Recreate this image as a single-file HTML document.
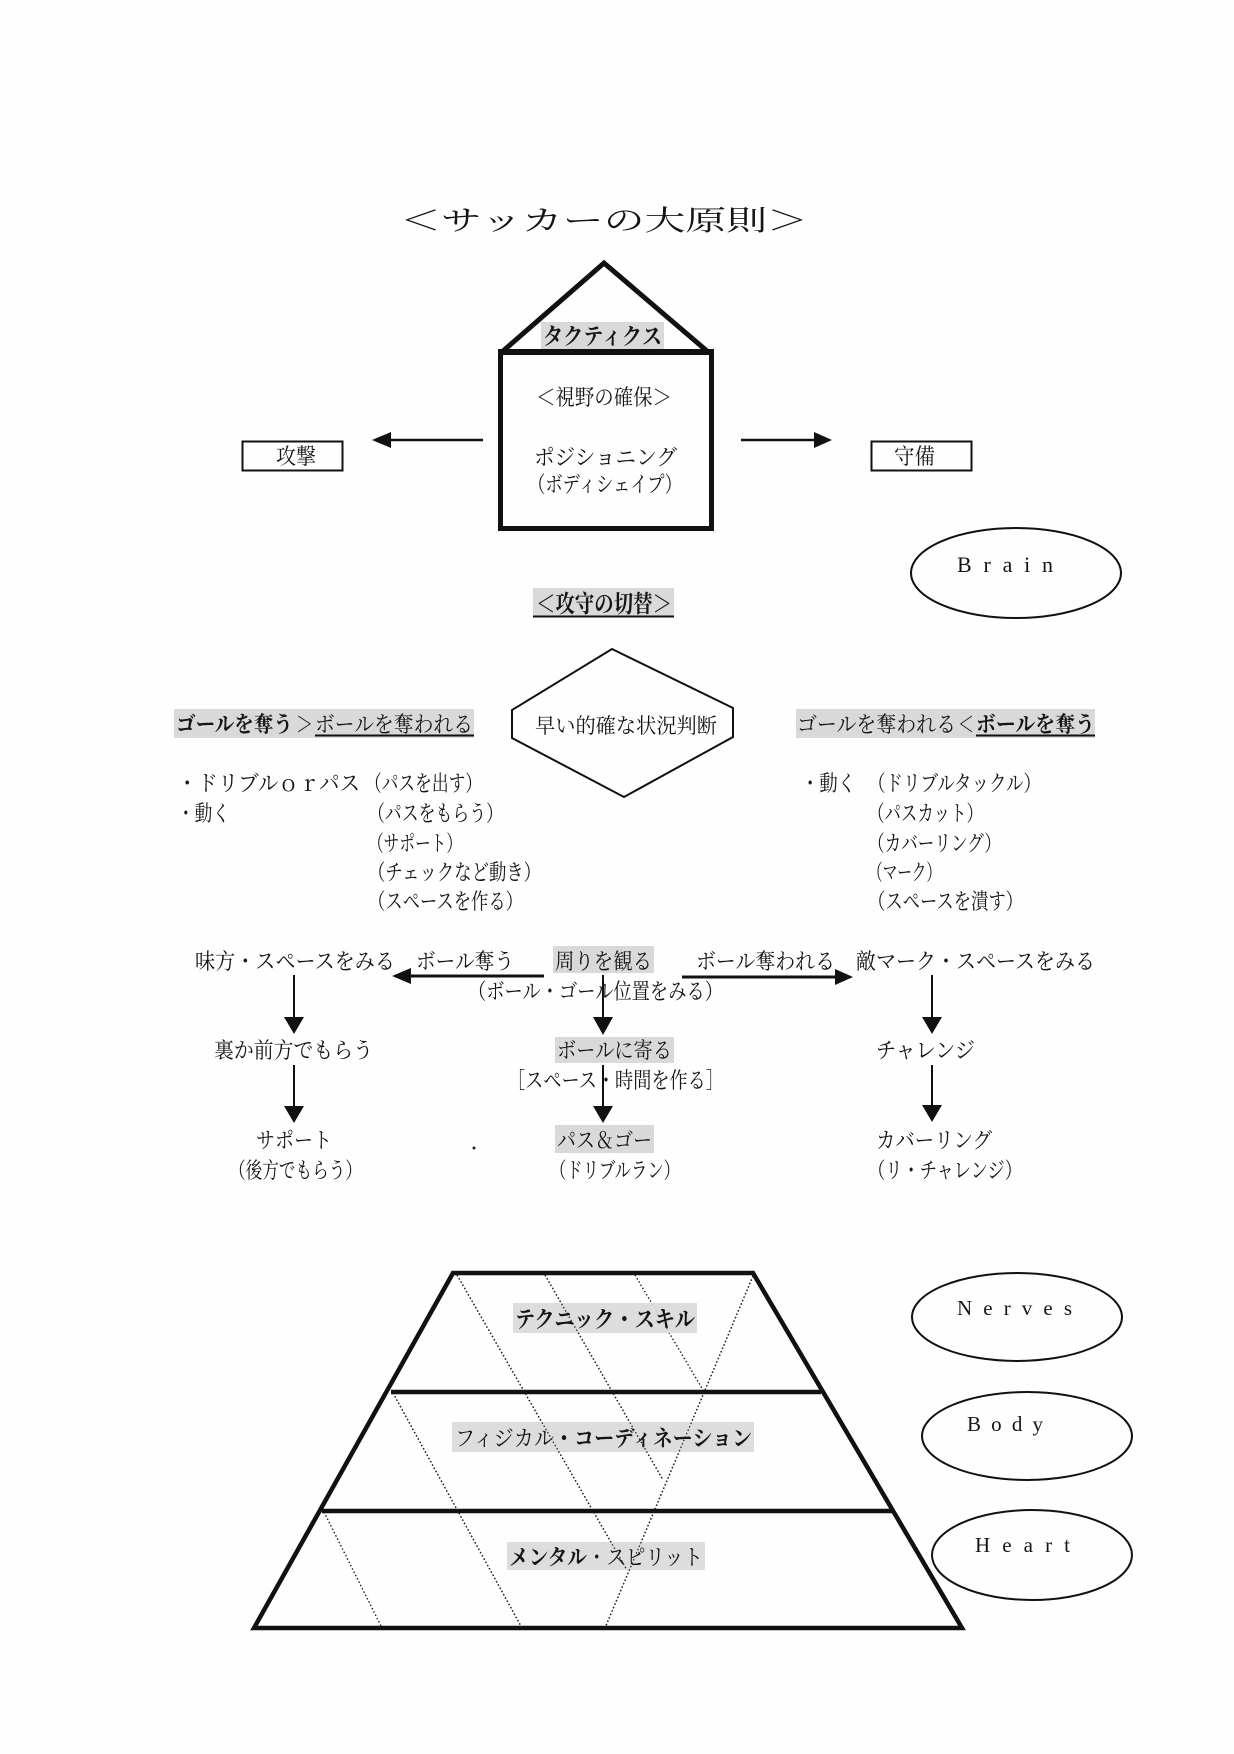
<!DOCTYPE html>
<html>
<head>
<meta charset="utf-8">
<style>
html,body{margin:0;padding:0;background:#fff;}
svg{display:block;}
text{font-family:"Liberation Serif","Noto Serif CJK SC",serif;fill:#151515;}
.b{font-weight:bold;}
.lat{font-family:"Liberation Serif",serif;}
</style>
</head>
<body>
<svg width="1234" height="1754" viewBox="0 0 1234 1754" xmlns="http://www.w3.org/2000/svg">
<rect x="0" y="0" width="1234" height="1754" fill="#fefefe"/>

<!-- Title -->
<text x="400" y="230" font-size="28" textLength="408" lengthAdjust="spacingAndGlyphs">＜サッカーの大原則＞</text>

<!-- House -->
<polyline points="503,351 604,263 707,351" fill="none" stroke="#111" stroke-width="5" stroke-linejoin="miter"/>
<rect x="500.5" y="352.5" width="211" height="176" fill="none" stroke="#111" stroke-width="5"/>
<line x1="498" y1="352" x2="714" y2="352" stroke="#111" stroke-width="6"/>
<rect x="541" y="322" width="123" height="27" fill="#d9d9d9"/>
<text class="b" x="543" y="344" font-size="23" textLength="119" lengthAdjust="spacingAndGlyphs">タクティクス</text>
<text x="536" y="405" font-size="22" textLength="136" lengthAdjust="spacingAndGlyphs">＜視野の確保＞</text>
<text x="534" y="465" font-size="22" textLength="143" lengthAdjust="spacingAndGlyphs">ポジショニング</text>
<text x="528" y="492" font-size="22" textLength="154" lengthAdjust="spacingAndGlyphs">（ボディシェイプ）</text>

<!-- side arrows -->
<line x1="390" y1="440" x2="483" y2="440" stroke="#111" stroke-width="2.5"/>
<polygon points="372,440 391,432 391,448" fill="#111"/>
<line x1="741" y1="440" x2="815" y2="440" stroke="#111" stroke-width="2.5"/>
<polygon points="832,440 814,432 814,448" fill="#111"/>

<rect x="242.5" y="441.5" width="100" height="29" fill="none" stroke="#111" stroke-width="2"/>
<text x="276" y="464" font-size="22" textLength="40" lengthAdjust="spacingAndGlyphs">攻撃</text>
<rect x="871.5" y="441.5" width="100" height="29" fill="none" stroke="#111" stroke-width="2"/>
<text x="894" y="464" font-size="22" textLength="41" lengthAdjust="spacingAndGlyphs">守備</text>

<!-- Brain -->
<ellipse cx="1016" cy="573" rx="105" ry="45" fill="none" stroke="#111" stroke-width="2"/>
<text class="lat" x="957" y="572" font-size="22" textLength="96" lengthAdjust="spacing">Brain</text>

<!-- 攻守の切替 -->
<rect x="533" y="588" width="141" height="29" fill="#d9d9d9"/>
<text class="b" x="536" y="612" font-size="24" textLength="136" lengthAdjust="spacingAndGlyphs">＜攻守の切替＞</text>
<line x1="533" y1="616.5" x2="674" y2="616.5" stroke="#111" stroke-width="2"/>

<!-- hexagon -->
<polygon points="612,649 733,708 733,737 624,797 512,738 512,710" fill="none" stroke="#111" stroke-width="2"/>
<text x="535" y="733" font-size="21" textLength="182" lengthAdjust="spacingAndGlyphs">早い的確な状況判断</text>

<!-- left heading -->
<rect x="174" y="709" width="300" height="29" fill="#d9d9d9"/>
<text class="b" x="176" y="732" font-size="22" textLength="117" lengthAdjust="spacingAndGlyphs">ゴールを奪う</text>
<text x="296" y="732" font-size="22" textLength="17" lengthAdjust="spacingAndGlyphs">＞</text>
<text x="315" y="732" font-size="22" textLength="158" lengthAdjust="spacingAndGlyphs">ボールを奪われる</text>
<line x1="315" y1="735.5" x2="474" y2="735.5" stroke="#111" stroke-width="2"/>

<!-- right heading -->
<rect x="796" y="709" width="299" height="29" fill="#d9d9d9"/>
<text x="797" y="732" font-size="22" textLength="159" lengthAdjust="spacingAndGlyphs">ゴールを奪われる</text>
<text x="958" y="732" font-size="22" textLength="16" lengthAdjust="spacingAndGlyphs">＜</text>
<text class="b" x="976" y="732" font-size="22" textLength="119" lengthAdjust="spacingAndGlyphs">ボールを奪う</text>
<line x1="976" y1="735.5" x2="1095" y2="735.5" stroke="#111" stroke-width="2"/>

<!-- left list -->
<text x="177" y="791" font-size="22" textLength="183" lengthAdjust="spacingAndGlyphs">・ドリブルｏｒパス</text>
<text x="365" y="791" font-size="22" textLength="117" lengthAdjust="spacingAndGlyphs">（パスを出す）</text>
<text x="177" y="821" font-size="22" textLength="53" lengthAdjust="spacingAndGlyphs">・動く</text>
<text x="368" y="821" font-size="22" textLength="135" lengthAdjust="spacingAndGlyphs">（パスをもらう）</text>
<text x="368" y="851" font-size="22" textLength="94" lengthAdjust="spacingAndGlyphs">（サポート）</text>
<text x="368" y="880" font-size="22" textLength="173" lengthAdjust="spacingAndGlyphs">（チェックなど動き）</text>
<text x="368" y="909" font-size="22" textLength="155" lengthAdjust="spacingAndGlyphs">（スペースを作る）</text>

<!-- right list -->
<text x="801" y="791" font-size="22" textLength="55" lengthAdjust="spacingAndGlyphs">・動く</text>
<text x="868" y="791" font-size="22" textLength="173" lengthAdjust="spacingAndGlyphs">（ドリブルタックル）</text>
<text x="868" y="821" font-size="22" textLength="115" lengthAdjust="spacingAndGlyphs">（パスカット）</text>
<text x="868" y="851" font-size="22" textLength="133" lengthAdjust="spacingAndGlyphs">（カバーリング）</text>
<text x="868" y="880" font-size="22" textLength="73" lengthAdjust="spacingAndGlyphs">（マーク）</text>
<text x="868" y="909" font-size="22" textLength="155" lengthAdjust="spacingAndGlyphs">（スペースを潰す）</text>

<!-- Flow row 1 -->
<text x="195" y="969" font-size="22" textLength="200" lengthAdjust="spacingAndGlyphs">味方・スペースをみる</text>
<text x="416" y="969" font-size="22" textLength="98" lengthAdjust="spacingAndGlyphs">ボール奪う</text>
<rect x="553" y="946" width="101" height="27" fill="#d9d9d9"/>
<text x="555" y="969" font-size="22" textLength="97" lengthAdjust="spacingAndGlyphs">周りを観る</text>
<text x="696" y="969" font-size="22" textLength="139" lengthAdjust="spacingAndGlyphs">ボール奪われる</text>
<text x="856" y="969" font-size="22" textLength="239" lengthAdjust="spacingAndGlyphs">敵マーク・スペースをみる</text>

<line x1="410" y1="976" x2="544" y2="976" stroke="#111" stroke-width="3"/>
<polygon points="392,976 411,968 411,984" fill="#111"/>
<line x1="682" y1="977" x2="836" y2="977" stroke="#111" stroke-width="3"/>
<polygon points="853,977 835,969 835,985" fill="#111"/>

<text x="468" y="999" font-size="22" textLength="255" lengthAdjust="spacingAndGlyphs">（ボール・ゴール位置をみる）</text>

<!-- vertical arrows row 1 -->
<line x1="294" y1="975" x2="294" y2="1019" stroke="#111" stroke-width="2"/>
<polygon points="294,1034 284,1017 304,1017" fill="#111"/>
<line x1="603" y1="975" x2="603" y2="1019" stroke="#111" stroke-width="2"/>
<polygon points="603,1035 593,1017 613,1017" fill="#111"/>
<line x1="932" y1="975" x2="932" y2="1019" stroke="#111" stroke-width="2"/>
<polygon points="932,1034 922,1017 942,1017" fill="#111"/>

<!-- Flow row 2 -->
<text x="214" y="1058" font-size="22" textLength="159" lengthAdjust="spacingAndGlyphs">裏か前方でもらう</text>
<rect x="555" y="1037" width="119" height="26" fill="#d9d9d9"/>
<text x="557" y="1058" font-size="22" textLength="115" lengthAdjust="spacingAndGlyphs">ボールに寄る</text>
<text x="876" y="1058" font-size="22" textLength="99" lengthAdjust="spacingAndGlyphs">チャレンジ</text>
<text x="507" y="1088" font-size="22" textLength="217" lengthAdjust="spacingAndGlyphs">［スペース・時間を作る］</text>

<!-- vertical arrows row 2 -->
<line x1="294" y1="1065" x2="294" y2="1109" stroke="#111" stroke-width="2"/>
<polygon points="294,1123 284,1106 304,1106" fill="#111"/>
<line x1="603" y1="1065" x2="603" y2="1109" stroke="#111" stroke-width="2"/>
<polygon points="603,1123 593,1106 613,1106" fill="#111"/>
<line x1="932" y1="1065" x2="932" y2="1109" stroke="#111" stroke-width="2"/>
<polygon points="932,1122 922,1105 942,1105" fill="#111"/>

<!-- Flow row 3 -->
<text x="256" y="1148" font-size="22" textLength="76" lengthAdjust="spacingAndGlyphs">サポート</text>
<text x="229" y="1178" font-size="22" textLength="133" lengthAdjust="spacingAndGlyphs">（後方でもらう）</text>
<rect x="555" y="1125" width="99" height="28" fill="#d9d9d9"/>
<text x="557" y="1148" font-size="22" textLength="95" lengthAdjust="spacingAndGlyphs">パス＆ゴー</text>
<text x="550" y="1178" font-size="22" textLength="130" lengthAdjust="spacingAndGlyphs">（ドリブルラン）</text>
<text x="876" y="1148" font-size="22" textLength="116" lengthAdjust="spacingAndGlyphs">カバーリング</text>
<text x="868" y="1178" font-size="22" textLength="154" lengthAdjust="spacingAndGlyphs">（リ・チャレンジ）</text>
<circle cx="474" cy="1148" r="1.5" fill="#222"/>

<!-- Pyramid -->
<g fill="none" stroke="#222" stroke-width="1.4" stroke-dasharray="1.5,2.2">
  <line x1="753" y1="1276" x2="605" y2="1628"/>
  <line x1="457" y1="1275" x2="627" y2="1570"/>
  <line x1="545" y1="1275" x2="663" y2="1480"/>
  <line x1="635" y1="1275" x2="703" y2="1390"/>
  <line x1="393" y1="1393" x2="522" y2="1628"/>
  <line x1="324" y1="1512" x2="382" y2="1628"/>
</g>
<polygon points="453,1273 753,1273 962,1628 254,1628" fill="none" stroke="#111" stroke-width="4.5" stroke-linejoin="miter"/>
<line x1="391" y1="1392" x2="821" y2="1392" stroke="#111" stroke-width="4.5"/>
<line x1="322" y1="1511" x2="893" y2="1511" stroke="#111" stroke-width="4.5"/>

<rect x="513" y="1303" width="184" height="30" fill="#d9d9d9" fill-opacity="0.9"/>
<text class="b" x="515" y="1327" font-size="23" textLength="180" lengthAdjust="spacingAndGlyphs">テクニック・スキル</text>
<rect x="452" y="1422" width="302" height="30" fill="#d9d9d9" fill-opacity="0.9"/>
<text x="455" y="1446" font-size="22" textLength="99" lengthAdjust="spacingAndGlyphs">フィジカル</text>
<text class="b" x="554" y="1446" font-size="22" textLength="198" lengthAdjust="spacingAndGlyphs">・コーディネーション</text>
<rect x="507" y="1542" width="198" height="28" fill="#d9d9d9" fill-opacity="0.9"/>
<text class="b" x="509" y="1565" font-size="22" textLength="78" lengthAdjust="spacingAndGlyphs">メンタル</text>
<text x="587" y="1565" font-size="22" textLength="116" lengthAdjust="spacingAndGlyphs">・スピリット</text>
<!-- redraw dotted lines over gray boxes -->
<g fill="none" stroke="#222" stroke-width="1.2" stroke-dasharray="1.5,2.2">
  <line x1="753" y1="1276" x2="605" y2="1628"/>
  <line x1="457" y1="1275" x2="627" y2="1570"/>
  <line x1="545" y1="1275" x2="663" y2="1480"/>
  <line x1="393" y1="1393" x2="522" y2="1628"/>
</g>

<!-- Right ellipses -->
<ellipse cx="1017" cy="1317" rx="105" ry="44" fill="none" stroke="#111" stroke-width="2"/>
<text class="lat" x="957" y="1315" font-size="21" textLength="115" lengthAdjust="spacing">Nerves</text>
<ellipse cx="1027" cy="1436" rx="105" ry="44" fill="none" stroke="#111" stroke-width="2"/>
<text class="lat" x="967" y="1431" font-size="21" textLength="76" lengthAdjust="spacing">Body</text>
<ellipse cx="1032" cy="1555" rx="100" ry="45" fill="none" stroke="#111" stroke-width="2"/>
<text class="lat" x="975" y="1552" font-size="21" textLength="95" lengthAdjust="spacing">Heart</text>
</svg>
</body>
</html>
